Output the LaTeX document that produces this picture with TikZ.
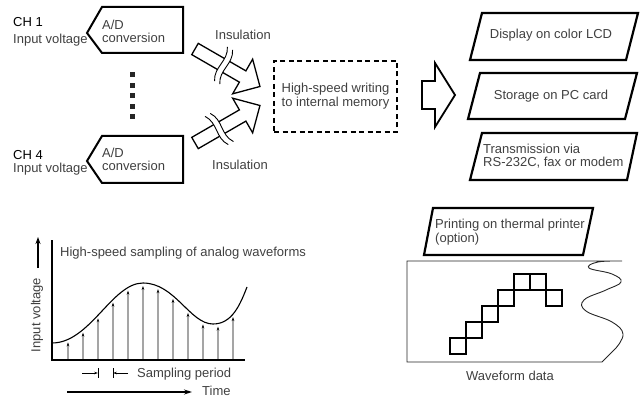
\documentclass[tikz,border=0pt]{standalone}
\usepackage{fontspec}
\setmainfont{Liberation Sans}
\usetikzlibrary{arrows.meta,calc,intersections,positioning}

\tikzset{
  lbl/.style={text=black!75, inner sep=0pt, font=\fontsize{13}{13.5}\selectfont},
  frame/.style={draw, line width=2pt, line join=miter},
  fine/.style={line width=0.9pt},
  tick/.style={-{Stealth[length=4pt,width=2.6pt]}, line width=0.7pt},
}

\begin{document}
\begin{tikzpicture}[x=1pt,y=-1pt]
	\useasboundingbox (0,0) rectangle (642,398);
	% channels
	\node [lbl,text=black,anchor=base west] (ch1) at (13,27) {CH 1};
	\node [lbl,anchor=base west] (in1) at (13,44) {Input voltage};
	\draw [frame] (102,7) -- (183,7) -- (183,53) -- (102,53) -- (87,33) -- cycle;
	\node [lbl,align=left,anchor=base west] (ad1) at (102,43) {A/D\\conversion};
	\node [lbl,text=black,anchor=base west] (ch4) at (13,160) {CH 4};
	\node [lbl,anchor=base west] (in4) at (13,173) {Input voltage};
	\draw [frame] (102,136) -- (183,136) -- (183,183) -- (102,183) -- (87,161) -- cycle;
	\node [lbl,align=left,anchor=base west] (ad4) at (102,171) {A/D\\conversion};
	\foreach \y in {75,86,96,107,117}
		\fill [black!85] (130,{\y-2.5}) rectangle +(5,5);
	% insulated transfer
	\foreach \px/\py/\ang/\b in {195/49/-30/32, 195/143/30/27} {
		\begin{scope}[shift={(\px,\py)},rotate=\ang]
			\draw [line width=1.3pt,line join=miter] (0,-6.5) -- (55,-6.5) -- (55,-20) -- (75,0) -- (55,20) -- (55,6.5) -- (0,6.5) -- cycle;
			\fill [white] (\b-5,-18) .. controls (\b+3,-6) and (\b-7,6) .. (\b+1,18) -- (\b+7,18) .. controls (\b-1,6) and (\b+9,-6) .. (\b+1,-18) -- cycle;
			\draw [fine] (\b-5,-18) .. controls (\b+3,-6) and (\b-7,6) .. (\b+1,18);
			\draw [fine] (\b+1,-18) .. controls (\b+9,-6) and (\b-1,6) .. (\b+7,18);
		\end{scope}
	}
	\node [lbl,anchor=base] (ins1) at (243,40) {Insulation};
	\node [lbl,anchor=base] (ins4) at (240,170) {Insulation};
	\node [draw,line width=1.8pt,dash pattern=on 5pt off 3.5pt,minimum width=123,minimum height=71,align=center,text=black!75,font=\fontsize{13}{14}\selectfont,inner sep=0pt] (mem) at (335.5,96.5) {High-speed writing\\to internal memory};
	\draw [line width=1.8pt,line join=miter] (422,81) -- (435,81) -- (435,63) -- (455,95) -- (435,127) -- (435,109) -- (422,109) -- cycle;
	% outputs
	\draw [frame,line width=2.2pt] (482,13) -- (638,13) -- (626,60) -- (470,60) -- cycle;
	\node [lbl,anchor=base] (lcd) at (551,39) {Display on color LCD};
	\draw [frame,line width=2.2pt] (480,73) -- (637,73) -- (625,119) -- (468,119) -- cycle;
	\node [lbl,anchor=base] (card) at (551,100) {Storage on PC card};
	\draw [frame,line width=2.2pt] (482,133) -- (637,133) -- (627,180) -- (470,180) -- cycle;
	\node [lbl,align=left,anchor=base west] (rs) at (483,167) {Transmission via\\RS-232C, fax or modem};
	% printer
	\draw [frame,line width=2.2pt] (433,208) -- (593,208) -- (583,255) -- (424,255) -- cycle;
	\node [lbl,align=left,anchor=base west] (prn) at (435,242) {Printing on thermal printer\\(option)};
	\draw [fine,black!85] (622,261) -- (407,261) -- (407,362) -- (602,362) -- (616,348)
		plot [smooth,tension=0.7] coordinates {(616,348) (623,334) (612,322) (586,311) (584,300) (606,290) (621,282) (612,274) (589,268) (598,262) (622,261)};
	\foreach \c/\r in {0/0,1/1,2/2,3/3,4/4,5/4,6/3}
		\draw [line width=1.1pt] ({450+16*\c},{338-16*\r}) rectangle +(16,16);
	\node [lbl,anchor=base] (wdata) at (510,380) {Waveform data};
	% sampling
	\draw [line width=1.3pt] (52,240) -- (52,360) -- (245,360);
	\draw [name path=wave,line width=1.1pt] (52,343) .. controls (90,343) and (112,283) .. (143,283)
		.. controls (175,283) and (190,324) .. (213,324) .. controls (232,324) and (240,305) .. (247,287);
	\foreach \x in {68,83,...,233} {
		\path [name path=vl] (\x,360) -- (\x,240);
		\draw [tick,name intersections={of=wave and vl}] (\x,360) -- ($(intersection-1)+(0,3)$);
	}
	\node [lbl,anchor=base west] (title) at (60,256) {High-speed sampling of analog waveforms};
	\node [lbl,rotate=90] (volt) at (37,315) {Input voltage};
	\draw [-{Stealth[length=7pt,width=5pt]},line width=1.1pt] (38,268) -- (38,237);
	\draw [line width=0.8pt] (98,368) -- (98,378) (113,368) -- (113,378);
	\draw [tick] (82,373) -- (98,373);
	\draw [tick] (128,373) -- (113,373);
	\node [lbl,anchor=base west] (per) at (137,377) {Sampling period};
	\draw [-{Stealth[length=8pt,width=5pt]},line width=1.1pt] (67,392) -- (192,392);
	\node [lbl,anchor=base west] (time) at (202,395.5) {Time};
\end{tikzpicture}
\end{document}
